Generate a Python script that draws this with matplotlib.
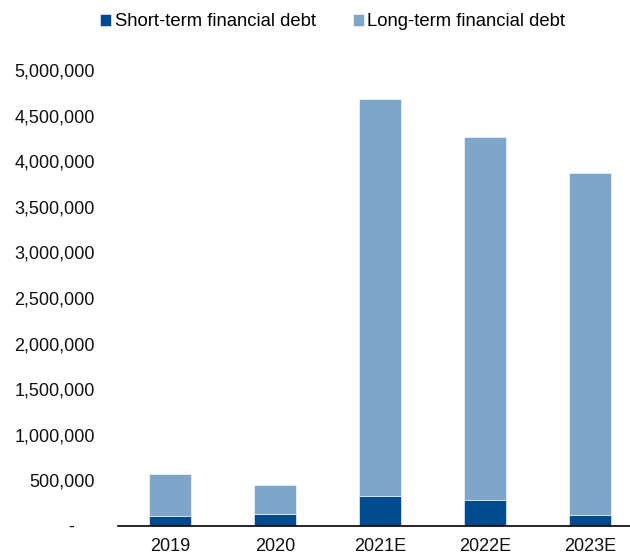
import matplotlib
matplotlib.use("Agg")
import matplotlib.pyplot as plt
from matplotlib.ticker import FuncFormatter

# 데이터
years = ["2019", "2020", "2021E", "2022E", "2023E"]
short_debt = [104000, 130000, 327000, 280000, 123000]
long_debt = [470000, 318000, 4360000, 3986000, 3751000]

dark = "#004B8D"
light = "#7FA6C8"

plt.rcParams["font.family"] = ["Liberation Sans", "DejaVu Sans"]
plt.rcParams["font.size"] = 13

fig = plt.figure(figsize=(6.3, 5.56), dpi=100)
ax = fig.add_axes([0.187, 0.054, 0.833, 0.820])

x = range(len(years))
ax.bar(x, short_debt, width=0.4, color=dark, edgecolor="white", linewidth=0.4,
       label="Short-term financial debt")
ax.bar(x, long_debt, width=0.4, bottom=short_debt, color=light, edgecolor="white",
       linewidth=0.4, label="Long-term financial debt")

ax.set_xlim(-0.5, 4.5)
ax.set_ylim(0, 5000000)
ax.set_yticks(range(0, 5000001, 500000))
ax.yaxis.set_major_formatter(FuncFormatter(lambda v, p: "-    " if v == 0 else f"{int(v):,}"))
ax.set_xticks(list(x))
ax.set_xticklabels(years)

for s in ["top", "right", "left"]:
    ax.spines[s].set_visible(False)
ax.spines["bottom"].set_linewidth(1.2)
ax.tick_params(axis="y", length=0, pad=16.5, labelcolor="#111111")
ax.tick_params(axis="x", length=0, pad=9, labelcolor="#111111")

fig.legend(loc="center", bbox_to_anchor=(0.528, 0.961), ncol=2, frameon=False,
           handlelength=0.6, handleheight=0.6, handletextpad=0.2, columnspacing=2.0,
           fontsize=13.3)

fig.savefig("out.png", dpi=100)
